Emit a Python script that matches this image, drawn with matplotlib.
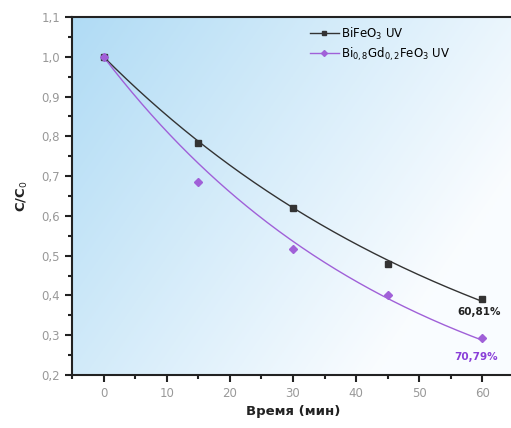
import numpy as np
import matplotlib.pyplot as plt
from matplotlib.ticker import MultipleLocator, FuncFormatter

# данные
t = [0, 15, 30, 45, 60]
bfo = [1.0, 0.783, 0.620, 0.478, 0.392]
bgfo = [1.0, 0.686, 0.517, 0.402, 0.292]
lab_bfo = r'BiFeO$_3$ UV'
lab_bgfo = r'Bi$_{0,8}$Gd$_{0,2}$FeO$_3$ UV'
ann = ['60,81%', '70,79%']

c_bfo = '#333333'
c_bgfo = '#a060d8'

fig = plt.figure(figsize=(5.11, 4.28), dpi=100)
ax = fig.add_axes([72 / 511, 53 / 428, 442 / 511, 358 / 428])

# градиентный фон
yy, xx = np.mgrid[0:1:200j, 0:1:200j]
g = np.clip(xx * 0.8 + yy * 0.45, 0, 1)
c0 = np.array([0.69, 0.86, 0.96])
c1 = np.array([0.98, 0.99, 1.0])
img = c0[None, None, :] * (1 - g[..., None]) + c1[None, None, :] * g[..., None]
ax.imshow(img, extent=[0, 1, 0, 1], transform=ax.transAxes, aspect='auto',
          origin='upper', zorder=0)

# экспоненциальная аппроксимация y = exp(-k t)
tt = np.linspace(0, 60, 200)
ta = np.array(t, dtype=float)
for y, c in [(bfo, c_bfo), (bgfo, c_bgfo)]:
    k = -np.sum(ta * np.log(y)) / np.sum(ta ** 2)
    ax.plot(tt, np.exp(-k * tt), color=c, lw=1.0, zorder=2)

ax.plot(t, bfo, 's', color=c_bfo, ms=5, zorder=3)
ax.plot(t, bgfo, 'D', color=c_bgfo, ms=4.5, zorder=3)
ax.plot([], [], '-s', color=c_bfo, ms=3.5, lw=1, label=lab_bfo)
ax.plot([], [], '-D', color=c_bgfo, ms=3, lw=1, label=lab_bgfo)

ax.text(t[-1] - 0.5, bfo[-1] - 0.033, ann[0], color='#222222', fontsize=7.5,
        fontweight='bold', ha='center', va='center')
ax.text(t[-1] - 1.0, bgfo[-1] - 0.046, ann[1], color='#8a3fd8', fontsize=7.5,
        fontweight='bold', ha='center', va='center')

ax.set_xlim(-5, 65)
ax.set_ylim(0.2, 1.1)
ax.xaxis.set_major_locator(MultipleLocator(10))
ax.xaxis.set_minor_locator(MultipleLocator(5))
ax.yaxis.set_major_locator(MultipleLocator(0.1))
ax.yaxis.set_minor_locator(MultipleLocator(0.05))
ax.xaxis.set_major_formatter(FuncFormatter(lambda v, p: '%d' % v))
ax.yaxis.set_major_formatter(FuncFormatter(lambda v, p: ('%.1f' % v).replace('.', ',')))
ax.tick_params(which='both', direction='out', colors='#222222', labelcolor='#999999',
               labelsize=8.5, width=1.5)
ax.tick_params(which='major', length=5)
ax.tick_params(which='minor', length=3)
for s in ['left', 'bottom', 'top']:
    ax.spines[s].set_linewidth(1.5)
    ax.spines[s].set_color('#222222')
ax.spines['right'].set_visible(False)

ax.set_xlabel('Время (мин)', fontsize=9.5, fontweight='bold', color='#222222', labelpad=4)
ax.set_ylabel(r'C/C$_0$', fontsize=9.5, fontweight='bold', color='#222222', labelpad=8)

leg = fig.legend(loc='upper left', bbox_to_anchor=(0.585, 0.965), frameon=False,
                 fontsize=8.5, handlelength=2.5, handletextpad=0.2, labelspacing=0.3)

fig.savefig('out.png', dpi=100)
